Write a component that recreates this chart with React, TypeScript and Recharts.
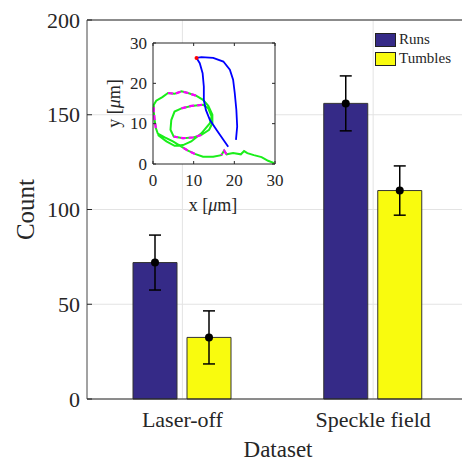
import React from 'react'
import {BarChart, Bar, XAxis, YAxis, CartesianGrid, ErrorBar, ReferenceLine, LineChart, Line, ReferenceDot} from 'recharts'

const datasets = ['Laser-off', 'Speckle field']
const runs = [72, 156]
const runsErr = [14.5, 14.5]
const tumbles = [32.5, 110]
const tumblesErr = [14, 13]
const countTicks = [0, 50, 100, 150, 200]
const trackTicks = [0, 10, 20, 30]

// inset trajectory, in micrometres
const runTrack = [
  {x: 20.4, y: 6.0}, {x: 20.7, y: 9.3}, {x: 20.5, y: 13.4}, {x: 20.1, y: 17.6}, {x: 19.7, y: 20.9},
  {x: 18.9, y: 23.4}, {x: 17.3, y: 25.4}, {x: 14.8, y: 26.3}, {x: 11.9, y: 26.5}, {x: 10.7, y: 26.3},
  {x: 11.5, y: 25.0}, {x: 12.2, y: 22.5}, {x: 12.5, y: 19.2}, {x: 12.5, y: 15.9}, {x: 13.0, y: 13.4},
  {x: 14.0, y: 10.9}, {x: 15.6, y: 8.5}, {x: 17.3, y: 6.0}, {x: 18.5, y: 4.3},
]
const trackStart = {x: 10.7, y: 26.3}
const loopTrack = [
  {x: 29.8, y: 0.2}, {x: 28.3, y: 0.8}, {x: 26.7, y: 1.7}, {x: 24.8, y: 2.2}, {x: 23.2, y: 2.7},
  {x: 22.4, y: 3.2}, {x: 21.6, y: 2.4}, {x: 19.7, y: 2.7}, {x: 18.1, y: 2.4}, {x: 17.5, y: 3.3},
  {x: 16.8, y: 2.2}, {x: 14.8, y: 1.8}, {x: 12.3, y: 1.8}, {x: 10.3, y: 2.5}, {x: 8.6, y: 3.3},
  {x: 7.0, y: 4.3}, {x: 4.9, y: 5.6}, {x: 2.9, y: 6.6}, {x: 1.2, y: 7.5}, {x: 0.7, y: 8.9},
  {x: 0.4, y: 10.9}, {x: 0.2, y: 13.0}, {x: 0.2, y: 14.7}, {x: 0.8, y: 15.7}, {x: 2.3, y: 16.6},
  {x: 3.7, y: 17.6}, {x: 5.3, y: 17.4}, {x: 7.0, y: 18.0}, {x: 8.6, y: 17.6}, {x: 10.7, y: 16.9},
  {x: 12.3, y: 15.9}, {x: 13.6, y: 14.4}, {x: 14.6, y: 12.2}, {x: 14.6, y: 10.1}, {x: 13.8, y: 8.5},
  {x: 11.9, y: 7.2}, {x: 9.9, y: 6.6}, {x: 7.4, y: 6.4}, {x: 5.1, y: 6.8}, {x: 4.3, y: 8.5},
  {x: 4.5, y: 10.9}, {x: 5.3, y: 13.0}, {x: 7.0, y: 13.8}, {x: 9.4, y: 14.4}, {x: 12.3, y: 14.7},
  {x: 13.6, y: 13.8}, {x: 14.4, y: 11.8}, {x: 14.0, y: 10.1}, {x: 11.9, y: 7.6}, {x: 9.4, y: 5.6},
  {x: 7.4, y: 4.7}, {x: 5.3, y: 4.5}, {x: 3.3, y: 5.6}, {x: 1.2, y: 7.2},
]
const tumbleLeft = [{x: 0.7, y: 8.9}, {x: 0.4, y: 10.9}, {x: 0.2, y: 13.0}, {x: 0.2, y: 14.7}]
const tumbleTop = [{x: 3.7, y: 17.6}, {x: 5.3, y: 17.4}, {x: 7.0, y: 18.0}, {x: 8.6, y: 17.6}, {x: 10.7, y: 16.9}]
const tumbleInnerTop = [{x: 7.0, y: 13.8}, {x: 9.4, y: 14.4}, {x: 12.3, y: 14.7}]
const tumbleInnerLow = [{x: 11.9, y: 7.2}, {x: 9.9, y: 6.6}, {x: 7.4, y: 6.4}, {x: 5.1, y: 6.8}]
const tumbleBottom = [{x: 10.3, y: 2.5}, {x: 8.6, y: 3.3}, {x: 7.0, y: 4.3}]
const tumbleKink = [{x: 18.1, y: 2.4}, {x: 17.5, y: 3.3}, {x: 16.8, y: 2.2}]

const serif = '"Liberation Serif", "DejaVu Serif", serif'
const ink = '#262626'

const rows = datasets.map((name, i) => ({
  name, runs: runs[i], runsErr: runsErr[i], tumbles: tumbles[i], tumblesErr: tumblesErr[i],
}))

const CountTick = (p: any) => (
  <g>
    <line x1={p.x} x2={p.x + 5} y1={p.y} y2={p.y} stroke={ink} />
    <text x={p.x - 7} y={p.y} textAnchor="end" dominantBaseline="central" fontSize={22} fill={ink}>{p.payload.value}</text>
  </g>
)

const DatasetTick = (p: any) => (
  <text x={p.x} y={p.y + 28} textAnchor="middle" fontSize={22} fill={ink}>{p.payload.value}</text>
)

const MeanDot = (p: any) => <circle cx={p.x + p.width / 2} cy={p.y} r={4} fill="#000" />

const TrackXTick = (p: any) => (
  <g>
    <line x1={p.x} x2={p.x} y1={p.y} y2={p.y - 3} stroke={ink} />
    <line x1={p.x} x2={p.x} y1={43} y2={46} stroke={ink} />
    <text x={p.x} y={p.y + 22} textAnchor="middle" fontSize={17} fill={ink}>{p.payload.value}</text>
  </g>
)

const TrackYTick = (p: any) => (
  <g>
    <line x1={p.x} x2={p.x + 3} y1={p.y} y2={p.y} stroke={ink} />
    <line x1={272} x2={275} y1={p.y} y2={p.y} stroke={ink} />
    <text x={p.x - 6} y={p.y} textAnchor="end" dominantBaseline="central" fontSize={17} fill={ink}>{p.payload.value}</text>
  </g>
)

const swatch = (color: string, top: number) => (
  <div style={{position: 'absolute', left: 375, top, width: 21, height: 14, background: color, border: '1px solid #222', boxSizing: 'border-box'}} />
)

export default function App() {
  return (
    <div style={{position: 'absolute', left: 0, top: 0, width: 462, height: 462, overflow: 'hidden', background: '#fff', fontFamily: serif}}>
      <BarChart width={480} height={462} data={rows} margin={{top: 20, right: 11.5, bottom: 0, left: 0}} barSize={44} barGap={10}>
        <CartesianGrid stroke="#e3e3e3" />
        <XAxis dataKey="name" height={63} tickSize={0} tickMargin={0} tickLine={false} axisLine={{stroke: ink}} tick={DatasetTick}
          label={{content: () => <text x={278} y={457} textAnchor="middle" fontSize={23} fill={ink}>Dataset</text>}} />
        <YAxis width={87} domain={[0, 200]} ticks={countTicks} tickSize={0} tickMargin={0} tickLine={false} axisLine={{stroke: '#555'}} tick={CountTick}
          label={{content: () => <text transform="translate(25,209.5) rotate(-90)" textAnchor="middle" dominantBaseline="central" fontSize={25} fill={ink}>Count</text>}} />
        <ReferenceLine y={200} stroke={ink} />
        <Bar dataKey="runs" fill="#352a87" stroke="#333" isAnimationActive={false} label={MeanDot}>
          <ErrorBar dataKey="runsErr" width={6} stroke="#000" strokeWidth={1.5} />
        </Bar>
        <Bar dataKey="tumbles" fill="#f9fb0e" stroke="#333" isAnimationActive={false} label={MeanDot}>
          <ErrorBar dataKey="tumblesErr" width={6} stroke="#000" strokeWidth={1.5} />
        </Bar>
      </BarChart>

      <div style={{position: 'absolute', left: 374, top: 28, width: 88, height: 44, background: '#fff'}}>
      </div>
      {swatch('#352a87', 33)}
      {swatch('#f9fb0e', 52)}
      <div style={{position: 'absolute', left: 399, top: 30, fontSize: 15, color: ink, lineHeight: '19px'}}>
        <div>Runs</div>
        <div>Tumbles</div>
      </div>

      <div style={{position: 'absolute', left: 0, top: 0}}>
        <LineChart width={290} height={230} margin={{top: 43, right: 15, bottom: 0, left: 0}}>
          <CartesianGrid fill="#fff" horizontal={false} vertical={false} />
          <XAxis type="number" dataKey="x" domain={[0, 30]} ticks={trackTicks} height={66} tickSize={0} tickMargin={0} tickLine={false}
            axisLine={{stroke: ink}} tick={TrackXTick}
            label={{content: () => <text x={213} y={211} textAnchor="middle" fontSize={18} fill={ink}>x [<tspan fontStyle="italic">μ</tspan>m]</text>}} />
          <YAxis type="number" dataKey="y" domain={[0, 30]} ticks={trackTicks} width={153} tickSize={0} tickMargin={0} tickLine={false}
            axisLine={{stroke: ink}} tick={TrackYTick}
            label={{content: () => <text transform="translate(114,103.5) rotate(-90)" textAnchor="middle" dominantBaseline="central" fontSize={18} fill={ink}>y [<tspan fontStyle="italic">μ</tspan>m]</text>}} />
          <ReferenceLine y={30} stroke={ink} />
          <ReferenceLine x={30} stroke={ink} />
          <Line data={loopTrack} dataKey="y" stroke="#1aee1a" strokeWidth={2} dot={false} isAnimationActive={false} />
          {[tumbleLeft, tumbleTop, tumbleInnerTop, tumbleInnerLow, tumbleBottom, tumbleKink].map((seg, i) => (
            <Line key={i} data={seg} dataKey="y" stroke="#ff00ff" strokeWidth={2.2} strokeDasharray="5 3" dot={false} isAnimationActive={false} />
          ))}
          <Line data={runTrack} dataKey="y" stroke="#0000ff" strokeWidth={1.8} dot={false} isAnimationActive={false} />
          <ReferenceDot x={trackStart.x} y={trackStart.y} r={2} fill="#ff0000" stroke="none" />
        </LineChart>
      </div>
    </div>
  )
}
